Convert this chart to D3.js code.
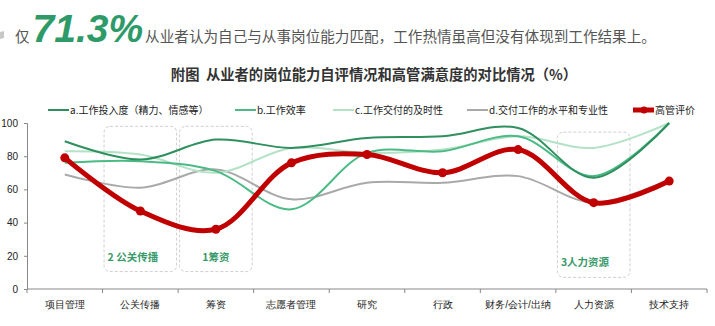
<!DOCTYPE html>
<html>
<head>
<meta charset="utf-8">
<script src="https://cdn.jsdelivr.net/npm/d3@7"></script>
<style>
  html, body { margin: 0; padding: 0; background: #fff; }
  svg { display: block; font-family: "Noto Sans CJK SC", "Noto Sans", sans-serif; }
</style>
</head>
<body>
<svg id="chart" width="715" height="326"></svg>
<script>
// Job categories along the x axis
const categories = ["项目管理", "公关传播", "筹资", "志愿者管理", "研究", "行政", "财务/会计/出纳", "人力资源", "技术支持"];

// Self-assessment series (%)
const seriesNames = ["a.工作投入度（精力、情感等）", "b.工作效率", "c.工作交付的及时性", "d.交付工作的水平和专业性"];
const investment  = [89, 78, 90, 85, 91, 92, 97, 67, 100];
const efficiency  = [76, 77, 71, 48, 82, 83, 92, 68, 100];
const timeliness  = [83, 81, 70, 85, 82, 84, 92, 85, 100];
const quality     = [69, 61, 72, 54, 64, 64, 68, 52, 66];

// Senior management rating (%)
const managerName = "高管评价";
const managerRating = [79, 47, 36, 76, 81, 70, 84, 52, 65];

// Y axis ticks
const yTicks = [0, 20, 40, 60, 80, 100];

// Highlighted categories: [category, label]
const highlights = [["公关传播", "2 公关传播"], ["筹资", "1筹资"], ["人力资源", "3人力资源"]];

const seriesColors = ["#2f8f5f", "#4cba85", "#b3e2c6", "#a9a9a9"];
const managerColor = "#c00000";

const svg = d3.select("#chart");

// Header line
const header = svg.append("text").attr("y", 42).attr("fill", "#555");
svg.append("path").attr("d", "M0,32 L4,31 L4,38 L0,39 Z").attr("fill", "#c8c8c8");
header.append("tspan").attr("x", 15).attr("font-size", 14.5).text("仅");
header.append("tspan").attr("dx", 3)
  .attr("font-family", "Liberation Sans, Arial, sans-serif")
  .attr("font-size", 39).attr("font-weight", "bold").attr("font-style", "italic")
  .attr("fill", "#2e9a68").text("71.3%");
header.append("tspan").attr("font-size", 14.6).attr("dx", 2)
  .text("从业者认为自己与从事岗位能力匹配，工作热情虽高但没有体现到工作结果上。");

// Chart title
svg.append("text").attr("x", 374).attr("y", 80).attr("text-anchor", "middle")
  .style("white-space", "pre")
  .attr("font-size", 14.3).attr("font-weight", "bold").attr("fill", "#333")
  .text("附图  从业者的岗位能力自评情况和高管满意度的对比情况（%）");

const plotLeft = 27, plotRight = 707, plotTop = 123, plotBottom = 289;
const x = d3.scaleBand().domain(categories).range([plotLeft, plotRight]);
const y = d3.scaleLinear().domain([0, 100]).range([plotBottom, plotTop]);
const cx = c => x(c) + x.bandwidth() / 2;

// Highlight boxes
highlights.forEach(([cat, label], i) => {
  const x0 = x(cat) + 1.5, w = x.bandwidth() - 3;
  const y0 = i === 2 ? y(94.5) : y(98), y1 = i === 2 ? y(7) : y(10.5);
  svg.append("rect").attr("x", x0).attr("y", y0).attr("width", w).attr("height", y1 - y0)
    .attr("rx", 6).attr("ry", 6).attr("fill", "none")
    .attr("stroke", "#cfcfcf").attr("stroke-dasharray", "3,2").attr("stroke-width", 1);
});

// Axes
const yAxis = d3.axisLeft(y).tickValues(yTicks).tickSize(3).tickPadding(6);
const gy = svg.append("g").attr("transform", `translate(${plotLeft},0)`).call(yAxis);
gy.select(".domain").attr("stroke", "#888");
gy.selectAll(".tick line").attr("stroke", "#888");
gy.selectAll(".tick text").attr("font-size", 10).attr("fill", "#222")
  .attr("font-family", "Liberation Sans, Arial, sans-serif");

const xAxis = d3.axisBottom(x).tickSize(0).tickPadding(10);
const gx = svg.append("g").attr("transform", `translate(0,${plotBottom})`).call(xAxis);
gx.select(".domain").attr("stroke", "#888").attr("d", `M${plotLeft},0H${plotRight}`);
gx.selectAll(".tick text").attr("font-size", 10).attr("fill", "#222").attr("dy", "0.9em");
// boundary ticks between categories
gx.selectAll(".bound").data(d3.range(categories.length + 1)).join("line")
  .attr("x1", i => plotLeft + i * x.bandwidth()).attr("x2", i => plotLeft + i * x.bandwidth())
  .attr("y1", 0).attr("y2", 4).attr("stroke", "#888");

// Lines
const line = d3.line().x((d, i) => cx(categories[i])).y(d => y(d)).curve(d3.curveCatmullRom.alpha(0.5));
const allSeries = [investment, efficiency, timeliness, quality];
[3, 2, 1, 0].forEach(k => {
  svg.append("path").attr("d", line(allSeries[k])).attr("fill", "none")
    .attr("stroke", seriesColors[k]).attr("stroke-width", 2);
});
svg.append("path").attr("d", line(managerRating)).attr("fill", "none")
  .attr("stroke", managerColor).attr("stroke-width", 5).attr("stroke-linecap", "round");
svg.selectAll(".mk").data(managerRating).join("circle")
  .attr("cx", (d, i) => cx(categories[i])).attr("cy", d => y(d)).attr("r", 4.5)
  .attr("fill", managerColor);

// Highlight labels
highlights.forEach(([cat, label], i) => {
  const t = svg.append("text").attr("font-size", 10.5).attr("font-weight", "bold").attr("fill", "#3a9a6c")
    .attr("y", i === 2 ? 266 : 261).text(label);
  if (i === 1) t.attr("x", cx(cat)).attr("text-anchor", "middle");
  else t.attr("x", x(cat) + 5);
});

// Legend
const legendItems = [
  { name: seriesNames[0], color: seriesColors[0], x: 48 },
  { name: seriesNames[1], color: seriesColors[1], x: 235 },
  { name: seriesNames[2], color: seriesColors[2], x: 333 },
  { name: seriesNames[3], color: seriesColors[3], x: 467 },
  { name: managerName, color: managerColor, x: 633, thick: true }
];
const lg = svg.append("g").attr("transform", "translate(0,110)");
legendItems.forEach(it => {
  lg.append("line").attr("x1", it.x).attr("x2", it.x + 21).attr("y1", 0).attr("y2", 0)
    .attr("stroke", it.color).attr("stroke-width", it.thick ? 5 : 2);
  if (it.thick) lg.append("circle").attr("cx", it.x + 11).attr("cy", 0).attr("r", 3.5).attr("fill", it.color);
  lg.append("text").attr("x", it.x + 22).attr("y", 0).attr("dy", "0.35em")
    .attr("font-size", 10).attr("fill", "#222").text(it.name);
});
</script>
</body>
</html>
